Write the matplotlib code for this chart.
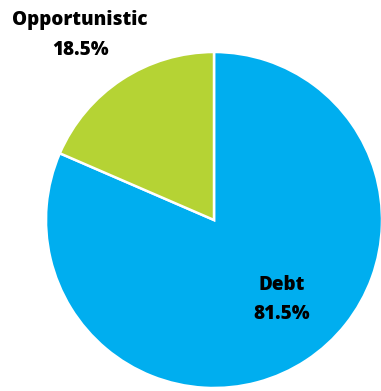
import matplotlib
matplotlib.use("Agg")
import matplotlib.pyplot as plt

labels = ["Debt", "Opportunistic"]
shares = [81.5, 18.5]
colors = ["#00AEEF", "#B5D334"]

W, H = 381, 391
fig = plt.figure(figsize=(W / 100, H / 100), dpi=100)
ax = fig.add_axes([0, 0, 1, 1])

# y axis points down, so counterclock=True draws clockwise on screen
ax.pie(shares, colors=colors, startangle=-90, counterclock=True,
       center=(214, 220), radius=168, frame=True,
       wedgeprops=dict(edgecolor="white", linewidth=1.8))
ax.set_xlim(0, W)
ax.set_ylim(H, 0)
ax.set_aspect("equal")
ax.axis("off")

font = dict(family="Open Sans", weight="heavy", fontsize=13.6, color="black",
            ha="center", va="baseline")
ax.text(80, 24.5, labels[1], **font)
ax.text(81, 55, f"{shares[1]}%", **font)
ax.text(282, 290, labels[0], **font)
ax.text(282, 319, f"{shares[0]}%", **font)

fig.savefig("out.png", dpi=100)
